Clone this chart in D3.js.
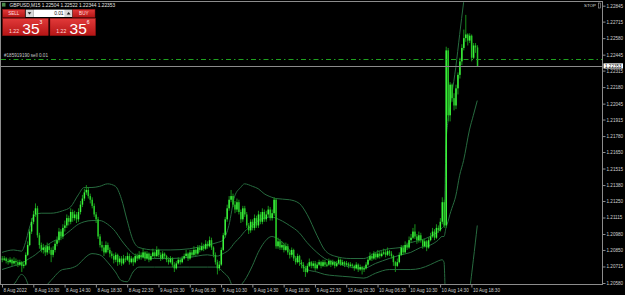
<!DOCTYPE html>
<html><head><meta charset="utf-8">
<script src="https://cdn.jsdelivr.net/npm/d3@7"></script>
<style>
html,body{margin:0;padding:0;background:#000;overflow:hidden;}
svg{display:block;}
text{font-family:"Liberation Sans",Arial,sans-serif;}
</style></head><body>
<svg id="chart" width="625" height="295"></svg>
<script>
// ---------- DATA ----------
const symbol = "GBPUSD,M15";
const headerOHLC = ["1.22504", "1.22522", "1.22344", "1.22353"];
const bidPrice = 1.22353;
const askPrice = 1.22356;
const lotSize = "0.01";
const orderPrice = 1.22412;
const orderLabel = "#185919190 sell 0.01";
const stopLabel = "STOP";

const timeLabels = ["8 Aug 2022","8 Aug 10:30","8 Aug 14:30","8 Aug 18:30","8 Aug 22:30",
  "9 Aug 02:30","9 Aug 06:30","9 Aug 10:30","9 Aug 14:30","9 Aug 18:30","9 Aug 22:30",
  "10 Aug 02:30","10 Aug 06:30","10 Aug 10:30","10 Aug 14:30","10 Aug 18:30"];
const timeLabelBars = [0,16,32,48,64,80,96,112,128,144,160,176,192,208,224,240];

const priceTicks = [1.22845,1.22715,1.22580,1.22445,1.22315,1.22180,1.22045,1.21915,1.21780,
  1.21650,1.21515,1.21380,1.21250,1.21115,1.20980,1.20850,1.20715,1.20580];

const opens = [
1.2078,1.2077,1.2078,1.2076,1.2075,1.2077,1.2074,1.2076,1.2075,1.2073,
1.2075,1.2072,1.2073,1.2081,1.2089,1.2100,1.2108,1.2114,1.2119,1.2097,
1.2089,1.2085,1.2087,1.2083,1.2088,1.2085,1.2081,1.2085,1.2090,1.2093,
1.2100,1.2096,1.2103,1.2105,1.2111,1.2108,1.2116,1.2111,1.2114,1.2110,
1.2116,1.2122,1.2127,1.2132,1.2134,1.2129,1.2126,1.2121,1.2114,1.2110,
1.2096,1.2089,1.2087,1.2083,1.2089,1.2085,1.2082,1.2080,1.2077,1.2081,
1.2075,1.2078,1.2074,1.2078,1.2077,1.2080,1.2075,1.2078,1.2075,1.2080,
1.2078,1.2081,1.2079,1.2083,1.2078,1.2082,1.2077,1.2080,1.2083,1.2080,
1.2085,1.2081,1.2078,1.2082,1.2080,1.2077,1.2075,1.2078,1.2073,1.2070,
1.2074,1.2077,1.2075,1.2078,1.2080,1.2082,1.2078,1.2083,1.2081,1.2085,
1.2082,1.2087,1.2085,1.2088,1.2086,1.2090,1.2088,1.2093,1.2087,1.2081,
1.2075,1.2070,1.2073,1.2085,1.2097,1.2110,1.2119,1.2126,1.2129,1.2122,
1.2118,1.2124,1.2116,1.2110,1.2119,1.2114,1.2105,1.2101,1.2108,1.2103,
1.2111,1.2105,1.2114,1.2108,1.2116,1.2110,1.2114,1.2118,1.2111,1.2115,
1.2126,1.2088,1.2092,1.2087,1.2089,1.2085,1.2088,1.2083,1.2081,1.2085,
1.2078,1.2075,1.2080,1.2075,1.2073,1.2070,1.2067,1.2072,1.2075,1.2072,
1.2074,1.2070,1.2073,1.2075,1.2072,1.2075,1.2073,1.2073,1.2076,1.2073,
1.2075,1.2072,1.2074,1.2077,1.2073,1.2075,1.2073,1.2074,1.2072,1.2073,
1.2072,1.2070,1.2073,1.2069,1.2071,1.2069,1.2070,1.2073,1.2077,1.2080,
1.2078,1.2082,1.2079,1.2082,1.2080,1.2082,1.2083,1.2081,1.2084,1.2082,
1.2080,1.2075,1.2072,1.2075,1.2081,1.2087,1.2083,1.2089,1.2087,1.2093,
1.2095,1.2100,1.2096,1.2093,1.2097,1.2093,1.2088,1.2092,1.2087,1.2093,
1.2096,1.2100,1.2095,1.2103,1.2101,1.2108,1.2124,1.2105,1.2248,1.2195,
1.2220,1.2209,1.2203,1.2217,1.2228,1.2239,1.2250,1.2258,1.2261,1.2256,
1.2260,1.2242,1.2252,1.22504];

const highs = [
1.2080,1.2080,1.2079,1.2078,1.2079,1.2078,1.2079,1.2078,1.2077,1.2077,
1.2076,1.2076,1.2083,1.2092,1.2102,1.2111,1.2117,1.2123,1.2121,1.2099,
1.2091,1.2090,1.2089,1.2091,1.2090,1.2087,1.2088,1.2093,1.2096,1.2103,
1.2102,1.2106,1.2109,1.2114,1.2113,1.2119,1.2118,1.2117,1.2116,1.2119,
1.2125,1.2130,1.2135,1.2138,1.2136,1.2131,1.2128,1.2123,1.2116,1.2112,
1.2098,1.2092,1.2089,1.2092,1.2091,1.2087,1.2084,1.2082,1.2083,1.2082,
1.2080,1.2080,1.2081,1.2080,1.2083,1.2082,1.2080,1.2079,1.2082,1.2082,
1.2084,1.2083,1.2086,1.2084,1.2084,1.2083,1.2082,1.2086,1.2084,1.2088,
1.2086,1.2083,1.2084,1.2083,1.2081,1.2079,1.2080,1.2079,1.2075,1.2076,
1.2079,1.2078,1.2080,1.2082,1.2085,1.2083,1.2085,1.2085,1.2088,1.2086,
1.2089,1.2089,1.2091,1.2090,1.2093,1.2092,1.2096,1.2095,1.2088,1.2083,
1.2077,1.2076,1.2087,1.2099,1.2112,1.2122,1.2129,1.2134,1.2131,1.2125,
1.2127,1.2126,1.2118,1.2121,1.2121,1.2116,1.2107,1.2110,1.2110,1.2114,
1.2113,1.2117,1.2116,1.2119,1.2118,1.2117,1.2121,1.2120,1.2118,1.2128,
1.2127,1.2095,1.2094,1.2092,1.2091,1.2091,1.2090,1.2085,1.2087,1.2086,
1.2080,1.2082,1.2081,1.2077,1.2075,1.2072,1.2074,1.2078,1.2076,1.2076,
1.2076,1.2075,1.2077,1.2076,1.2077,1.2077,1.2075,1.2078,1.2077,1.2077,
1.2076,1.2076,1.2079,1.2078,1.2077,1.2076,1.2076,1.2075,1.2075,1.2074,
1.2073,1.2075,1.2074,1.2073,1.2072,1.2072,1.2075,1.2079,1.2083,1.2082,
1.2084,1.2083,1.2085,1.2084,1.2084,1.2086,1.2085,1.2087,1.2085,1.2084,
1.2081,1.2076,1.2078,1.2083,1.2089,1.2089,1.2092,1.2091,1.2096,1.2098,
1.2103,1.2106,1.2098,1.2100,1.2099,1.2094,1.2094,1.2093,1.2095,1.2099,
1.2103,1.2102,1.2106,1.2105,1.2111,1.2128,1.2126,1.2251,1.2250,1.2222,
1.2221,1.2213,1.2220,1.2230,1.2242,1.2253,1.2265,1.2277,1.2262,1.2262,
1.2261,1.2254,1.2254,1.22522];

const lows = [
1.2075,1.2076,1.2074,1.2073,1.2074,1.2072,1.2073,1.2072,1.2071,1.2072,
1.2067,1.2070,1.2072,1.2080,1.2088,1.2098,1.2106,1.2112,1.2095,1.2086,
1.2083,1.2082,1.2080,1.2081,1.2082,1.2075,1.2079,1.2083,1.2088,1.2091,
1.2093,1.2094,1.2100,1.2103,1.2105,1.2106,1.2108,1.2109,1.2107,1.2108,
1.2114,1.2120,1.2125,1.2130,1.2127,1.2123,1.2119,1.2112,1.2107,1.2094,
1.2087,1.2084,1.2080,1.2082,1.2083,1.2079,1.2078,1.2074,1.2075,1.2072,
1.2073,1.2072,1.2073,1.2075,1.2076,1.2073,1.2074,1.2072,1.2074,1.2076,
1.2077,1.2077,1.2078,1.2076,1.2077,1.2075,1.2076,1.2079,1.2078,1.2079,
1.2079,1.2076,1.2077,1.2078,1.2075,1.2073,1.2074,1.2071,1.2067,1.2069,
1.2073,1.2073,1.2074,1.2077,1.2079,1.2076,1.2077,1.2079,1.2080,1.2080,
1.2081,1.2083,1.2084,1.2084,1.2085,1.2086,1.2087,1.2085,1.2079,1.2073,
1.2065,1.2068,1.2072,1.2084,1.2095,1.2108,1.2117,1.2124,1.2120,1.2115,
1.2116,1.2114,1.2107,1.2108,1.2112,1.2103,1.2098,1.2099,1.2101,1.2101,
1.2103,1.2103,1.2106,1.2106,1.2108,1.2108,1.2112,1.2109,1.2109,1.2113,
1.2086,1.2086,1.2085,1.2085,1.2083,1.2084,1.2081,1.2078,1.2079,1.2076,
1.2073,1.2074,1.2072,1.2070,1.2067,1.2063,1.2066,1.2071,1.2070,1.2070,
1.2068,1.2069,1.2072,1.2070,1.2071,1.2071,1.2071,1.2072,1.2071,1.2072,
1.2070,1.2071,1.2073,1.2072,1.2072,1.2071,1.2072,1.2070,1.2071,1.2070,
1.2068,1.2069,1.2067,1.2068,1.2065,1.2067,1.2069,1.2072,1.2076,1.2076,
1.2077,1.2077,1.2078,1.2078,1.2079,1.2081,1.2079,1.2080,1.2080,1.2078,
1.2072,1.2067,1.2071,1.2074,1.2080,1.2081,1.2082,1.2085,1.2086,1.2091,
1.2094,1.2094,1.2090,1.2091,1.2091,1.2086,1.2087,1.2084,1.2086,1.2092,
1.2095,1.2093,1.2094,1.2099,1.2100,1.2106,1.2103,1.2103,1.2190,1.2190,
1.2206,1.2199,1.2200,1.2212,1.2225,1.2236,1.2248,1.2255,1.2252,1.2254,
1.2239,1.2241,1.2246,1.22344];

const closes = [
1.2077,1.2078,1.2076,1.2075,1.2077,1.2074,1.2076,1.2075,1.2073,1.2075,
1.2072,1.2073,1.2081,1.2089,1.2100,1.2108,1.2114,1.2119,1.2097,1.2089,
1.2085,1.2087,1.2083,1.2088,1.2085,1.2081,1.2085,1.2090,1.2093,1.2100,
1.2096,1.2103,1.2105,1.2111,1.2108,1.2116,1.2111,1.2114,1.2110,1.2116,
1.2122,1.2127,1.2132,1.2134,1.2129,1.2126,1.2121,1.2114,1.2110,1.2096,
1.2089,1.2087,1.2083,1.2089,1.2085,1.2082,1.2080,1.2077,1.2081,1.2075,
1.2078,1.2074,1.2078,1.2077,1.2080,1.2075,1.2078,1.2075,1.2080,1.2078,
1.2081,1.2079,1.2083,1.2078,1.2082,1.2077,1.2080,1.2083,1.2080,1.2085,
1.2081,1.2078,1.2082,1.2080,1.2077,1.2075,1.2078,1.2073,1.2070,1.2074,
1.2077,1.2075,1.2078,1.2080,1.2082,1.2078,1.2083,1.2081,1.2085,1.2082,
1.2087,1.2085,1.2088,1.2086,1.2090,1.2088,1.2093,1.2087,1.2081,1.2075,
1.2070,1.2073,1.2085,1.2097,1.2110,1.2119,1.2126,1.2129,1.2122,1.2118,
1.2124,1.2116,1.2110,1.2119,1.2114,1.2105,1.2101,1.2108,1.2103,1.2111,
1.2105,1.2114,1.2108,1.2116,1.2110,1.2114,1.2118,1.2111,1.2115,1.2126,
1.2088,1.2092,1.2087,1.2089,1.2085,1.2088,1.2083,1.2081,1.2085,1.2078,
1.2075,1.2080,1.2075,1.2073,1.2070,1.2067,1.2072,1.2075,1.2072,1.2074,
1.2070,1.2073,1.2075,1.2072,1.2075,1.2073,1.2073,1.2076,1.2073,1.2075,
1.2072,1.2074,1.2077,1.2073,1.2075,1.2073,1.2074,1.2072,1.2073,1.2072,
1.2070,1.2073,1.2069,1.2071,1.2069,1.2070,1.2073,1.2077,1.2080,1.2078,
1.2082,1.2079,1.2082,1.2080,1.2082,1.2083,1.2081,1.2084,1.2082,1.2080,
1.2075,1.2072,1.2075,1.2081,1.2087,1.2083,1.2089,1.2087,1.2093,1.2095,
1.2100,1.2096,1.2093,1.2097,1.2093,1.2088,1.2092,1.2087,1.2093,1.2096,
1.2100,1.2095,1.2103,1.2101,1.2108,1.2124,1.2105,1.2248,1.2195,1.2220,
1.2209,1.2203,1.2217,1.2228,1.2239,1.2250,1.2258,1.2261,1.2256,1.2260,
1.2242,1.2252,1.22504,1.22353];

// Bollinger band readings at selected bars
const bandBars = [0,6,10,12,14,17,20,25,31,35,39,42,46,50,54,58,61,64,67,70,
  78,86,96,105,110,113,116,119,122,124,128,131,134,138,140,147,152,156,161,165,
  170,178,185,191,198,204,209,214,219,223,225,226,227,228,229,230,232,234,236,239,241,243];
const bandUpper = [1.2083,1.2085,1.2084,1.2091,1.2103,1.2114,1.2115,1.2115,1.2117,1.2120,
  1.2130,1.2136,1.2136,1.2137,1.2139,1.2137,1.2127,1.2109,1.2093,1.2087,
  1.2085,1.2085,1.2086,1.2089,1.2091,1.2093,1.2105,1.2129,1.2136,1.2139,
  1.2137,1.2135,1.2131,1.2128,1.2127,1.2126,1.2123,1.2114,1.2097,1.2085,
  1.2080,1.2078,1.2078,1.2083,1.2086,1.2087,1.2091,1.2093,1.2096,1.2100,
  1.2103,1.2105,1.2171,1.2190,1.2201,1.2212,1.2234,1.2261,1.2287,1.2322,1.2338,1.2350];
const bandMiddle = [1.2069,1.2072,1.2074,1.2076,1.2078,1.2081,1.2085,1.2091,1.2096,1.2101,
  1.2106,1.2108,1.2109,1.2109,1.2106,1.2100,1.2093,1.2087,1.2082,1.2080,
  1.2078,1.2078,1.2079,1.2081,1.2080,1.2082,1.2085,1.2091,1.2096,1.2100,
  1.2105,1.2109,1.2111,1.2112,1.2111,1.2105,1.2099,1.2091,1.2083,1.2078,
  1.2075,1.2071,1.2070,1.2074,1.2078,1.2081,1.2083,1.2087,1.2089,1.2093,
  1.2096,1.2096,1.2103,1.2108,1.2114,1.2119,1.2129,1.2146,1.2158,1.2183,1.2195,1.2207];
const bandLower = [1.2054,1.2057,1.2065,1.2062,1.2054,1.2046,1.2051,1.2060,1.2069,1.2070,
  1.2073,1.2078,1.2082,1.2081,1.2075,1.2067,1.2060,1.2059,1.2067,1.2071,
  1.2071,1.2071,1.2071,1.2071,1.2071,1.2067,1.2062,1.2052,1.2056,1.2060,
  1.2072,1.2083,1.2091,1.2096,1.2095,1.2085,1.2075,1.2069,1.2067,1.2065,
  1.2064,1.2063,1.2062,1.2066,1.2069,1.2069,1.2069,1.2070,1.2073,1.2076,
  1.2077,1.2075,1.2036,1.2034,1.2033,1.2033,1.2033,1.2032,1.2038,1.2052,1.2077,1.2105];

// ---------- DRAW ----------
const svg = d3.select("#chart");
const plot = {left: 1, top: 1, right: 602, bottom: 284};

svg.append("rect").attr("width", 625).attr("height", 295).attr("fill", "#000");

const x = d3.scaleLinear().domain([0, 240]).range([2, 471.4]);
const y = d3.scaleLinear().domain([1.20580, 1.22845]).range([283, 5.7]);

const defs = svg.append("defs");
defs.append("clipPath").attr("id", "plotClip").append("rect")
  .attr("x", plot.left).attr("y", plot.top)
  .attr("width", plot.right - plot.left).attr("height", plot.bottom - plot.top);
const redGrad = defs.append("linearGradient").attr("id", "redGrad")
  .attr("x1", 0).attr("y1", 0).attr("x2", 0).attr("y2", 1);
redGrad.append("stop").attr("offset", "0%").attr("stop-color", "#e23a3a");
redGrad.append("stop").attr("offset", "100%").attr("stop-color", "#b51515");

const gPlot = svg.append("g").attr("clip-path", "url(#plotClip)");

// Bollinger bands
const bandColor = "#276b3f";
[bandUpper, bandMiddle, bandLower].forEach(arr => {
  const line = d3.line()
    .x((d, i) => x(bandBars[i]))
    .y(d => y(d))
    .curve(d3.curveMonotoneX);
  gPlot.append("path").datum(arr).attr("d", line)
    .attr("fill", "none").attr("stroke", bandColor).attr("stroke-width", 1);
});

// Candles
const idx = d3.range(opens.length);
const wickColor = "#17901a", bullColor = "#3cf53c", bearColor = "#28c828";
gPlot.append("g").selectAll("line").data(idx).join("line")
  .attr("x1", i => x(i) + 0.25).attr("x2", i => x(i) + 0.25)
  .attr("y1", i => y(highs[i])).attr("y2", i => y(lows[i]))
  .attr("stroke", wickColor).attr("stroke-width", 1);
gPlot.append("g").selectAll("rect").data(idx).join("rect")
  .attr("x", i => x(i) - 0.5)
  .attr("width", 1.5)
  .attr("y", i => y(Math.max(opens[i], closes[i])))
  .attr("height", i => Math.max(1, Math.abs(y(opens[i]) - y(closes[i]))))
  .attr("fill", i => closes[i] >= opens[i] ? bullColor : bearColor);

// Order line (dash-dot)
gPlot.append("line").attr("x1", plot.left).attr("x2", plot.right)
  .attr("y1", Math.round(y(orderPrice)) + 0.5).attr("y2", Math.round(y(orderPrice)) + 0.5)
  .attr("stroke", "#1ea01e").attr("stroke-width", 1).attr("stroke-dasharray", "5,3,1.5,3");
svg.append("text").attr("x", 4).attr("y", y(orderPrice) - 2.2)
  .attr("font-size", 4.6).attr("fill", "#c8c8c8").text(orderLabel);

// Bid line
gPlot.append("line").attr("x1", plot.left).attr("x2", plot.right)
  .attr("y1", Math.round(y(bidPrice)) + 0.5).attr("y2", Math.round(y(bidPrice)) + 0.5)
  .attr("stroke", "#8a8a8a").attr("stroke-width", 1);

// Frame
const frameColor = "#8c8c8c";
svg.append("rect").attr("x", 0.5).attr("y", 1.5)
  .attr("width", plot.right).attr("height", plot.bottom - 1)
  .attr("fill", "none").attr("stroke", frameColor).attr("stroke-width", 1);

// Y axis
const yAxis = d3.axisRight(y).tickValues(priceTicks).tickSize(3).tickPadding(1)
  .tickFormat(d3.format(".5f"));
const gy = svg.append("g").attr("transform", `translate(${plot.right + 0.5},0)`).call(yAxis);
gy.select(".domain").remove();
gy.selectAll("line").attr("stroke", frameColor);
gy.selectAll("text").attr("font-size", 4.6).attr("fill", "#d0d0d0")
  .attr("font-family", "Liberation Sans, Arial, sans-serif");

// X axis
const xAxis = d3.axisBottom(x).tickValues(timeLabelBars).tickSize(3)
  .tickFormat((d, i) => timeLabels[i]);
const gx = svg.append("g").attr("transform", `translate(0,${plot.bottom + 0.5})`).call(xAxis);
gx.select(".domain").remove();
gx.selectAll("line").attr("stroke", frameColor);
gx.selectAll("text").attr("font-size", 4.6).attr("fill", "#d0d0d0")
  .attr("text-anchor", "start").attr("dx", "1").attr("y", 4)
  .attr("font-family", "Liberation Sans, Arial, sans-serif");

// Bid label box
const yb = y(bidPrice);
svg.append("rect").attr("x", 603.5).attr("y", yb - 2.6).attr("width", 19.5).attr("height", 5.2)
  .attr("fill", "#ffffff");
svg.append("text").attr("x", 605).attr("y", yb + 1.7).attr("font-size", 4.6)
  .attr("fill", "#000").text(bidPrice.toFixed(5));

// Header
svg.append("rect").attr("x", 2).attr("y", 2.8).attr("width", 3.5).attr("height", 3.8)
  .attr("fill", "#4a8a4a");
svg.append("text").attr("x", 9.5).attr("y", 6.6).attr("font-size", 4.8).attr("fill", "#e6e6e6")
  .text(symbol + "  " + headerOHLC.join(" "));
svg.append("text").attr("x", 584).attr("y", 7.3).attr("font-size", 4.4).attr("fill", "#dcdcdc")
  .text(stopLabel);
svg.append("rect").attr("x", 598.5).attr("y", 3).attr("width", 2).attr("height", 5)
  .attr("fill", "none").attr("stroke", "#aaaaaa").attr("stroke-width", 0.6);

// One-click trading panel
const panel = svg.append("g");
function redBox(x0, y0, w, h) {
  panel.append("rect").attr("x", x0).attr("y", y0).attr("width", w).attr("height", h)
    .attr("fill", "url(#redGrad)").attr("stroke", "#8a1010").attr("stroke-width", 0.5);
}
redBox(2.7, 9.3, 22.3, 8);
panel.append("text").attr("x", 13.8).attr("y", 15.1).attr("text-anchor", "middle")
  .attr("font-size", 4.6).attr("fill", "#ffdede").text("SELL");
redBox(72.7, 9.3, 22.3, 8);
panel.append("text").attr("x", 83.8).attr("y", 15.1).attr("text-anchor", "middle")
  .attr("font-size", 4.6).attr("fill", "#ffdede").text("BUY");
panel.append("rect").attr("x", 25.8).attr("y", 9.6).attr("width", 7.4).attr("height", 7.4)
  .attr("fill", "#d8d8d8");
panel.append("path").attr("d", "M27.6,12.2 L31.4,12.2 L29.5,14.6 Z").attr("fill", "#222");
panel.append("rect").attr("x", 33.3).attr("y", 9.6).attr("width", 31.6).attr("height", 7.4)
  .attr("fill", "#ffffff");
panel.append("text").attr("x", 63.5).attr("y", 15).attr("text-anchor", "end")
  .attr("font-size", 4.8).attr("fill", "#111").text(lotSize);
panel.append("rect").attr("x", 65).attr("y", 9.6).attr("width", 7.2).attr("height", 7.4)
  .attr("fill", "#d8d8d8");
panel.append("path").attr("d", "M66.7,14.4 L70.5,14.4 L68.6,12 Z").attr("fill", "#222");

function priceBox(x0, price) {
  redBox(x0, 18.3, 45.6, 17.4);
  const s = price.toFixed(5);
  panel.append("text").attr("x", x0 + 6.3).attr("y", 33.2).attr("font-size", 5.2)
    .attr("fill", "#ffdada").text(s.slice(0, 4));
  panel.append("text").attr("x", x0 + 19.6).attr("y", 34.2).attr("font-size", 15.5)
    .attr("fill", "#ffffff").text(s.slice(4, 6));
  panel.append("text").attr("x", x0 + 36.8).attr("y", 24.2).attr("font-size", 5)
    .attr("fill", "#ffffff").text(s.slice(6, 7));
}
priceBox(2.7, bidPrice);
priceBox(50, askPrice);
</script>
</body></html>
